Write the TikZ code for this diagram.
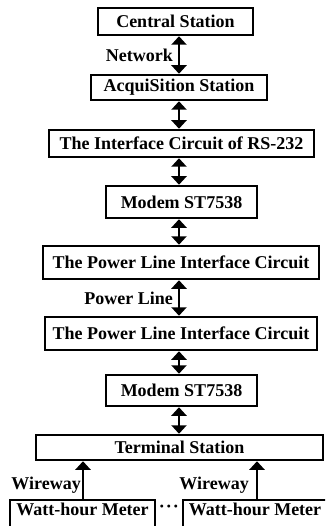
\documentclass[tikz,border=0pt]{standalone}
\usepackage{fontspec}
\setmainfont{Liberation Serif}
\usetikzlibrary{arrows.meta}
\begin{document}
\begin{tikzpicture}[x=1pt,y=-1pt,
  font=\fontsize{18}{20}\selectfont\bfseries,
  box/.style={draw,line width=2.5pt,inner sep=0pt,align=center},
  lbl/.style={inner sep=0pt,anchor=east},
  link/.style={line width=2.5pt,{Triangle[width=15pt,length=8.5pt]}-{Triangle[width=15pt,length=8.5pt]}},
  uplink/.style={line width=2.5pt,-{Triangle[width=15pt,length=8.5pt]}}]
\useasboundingbox (0,0) rectangle (325,526);
\clip (0,0) rectangle (325,526);
\coordinate (ax) at (179,0);
\coordinate (wl) at (83,0);
\coordinate (wr) at (257,0);
\node[box,minimum width=155pt,minimum height=27pt] (cs) at (175.5,21.5) {Central Station};
\node[box,minimum width=176pt,minimum height=25pt] (acq) at (179,87.5) {AcquiSition Station};
\node[box,minimum width=265pt,minimum height=27pt] (rs) at (181.5,143.5) {The Interface Circuit of RS-232};
\node[box,minimum width=151pt,minimum height=32pt] (m1) at (181.5,202) {Modem ST7538};
\node[box,minimum width=276pt,minimum height=33pt] (p1) at (181,262.5) {The Power Line Interface Circuit};
\node[box,minimum width=272pt,minimum height=33pt] (p2) at (181,333.5) {The Power Line Interface Circuit};
\node[box,minimum width=151pt,minimum height=31pt] (m2) at (181.5,390.5) {Modem ST7538};
\node[box,minimum width=287pt,minimum height=25pt] (term) at (179.5,447.5) {Terminal Station};
\node[box,minimum width=145pt,minimum height=34pt] (wm1) at (82.5,517) {};
\node[box,minimum width=144pt,minimum height=34pt] (wm2) at (255,517) {};
\node[inner sep=0pt] (wt1) at (82.5,509.5) {Watt-hour Meter};
\node[inner sep=0pt] (wt2) at (255,509.5) {Watt-hour Meter};
\node[inner sep=0pt] (dots) at (169,509) {\textperiodcentered\kern1pt\textperiodcentered\kern1pt\textperiodcentered};
\draw[link] (cs.south -| ax) -- (acq.north -| ax);
\draw[link] (acq.south -| ax) -- (rs.north -| ax);
\draw[link] (rs.south -| ax) -- (m1.north -| ax);
\draw[link] (m1.south -| ax) -- (p1.north -| ax);
\draw[link] (p1.south -| ax) -- (p2.north -| ax);
\draw[link] (p2.south -| ax) -- (m2.north -| ax);
\draw[link] (m2.south -| ax) -- (term.north -| ax);
\draw[uplink] (wm1.north -| wl) -- (term.south -| wl);
\draw[uplink] (wm2.north -| wr) -- (term.south -| wr);
\node[lbl] (net) at (173,55) {Network};
\node[lbl] (pl) at (173,298) {Power Line};
\node[lbl] (ww1) at (81,485) {Wireway};
\node[lbl] (ww2) at (249,485) {Wireway};
\end{tikzpicture}
\end{document}
